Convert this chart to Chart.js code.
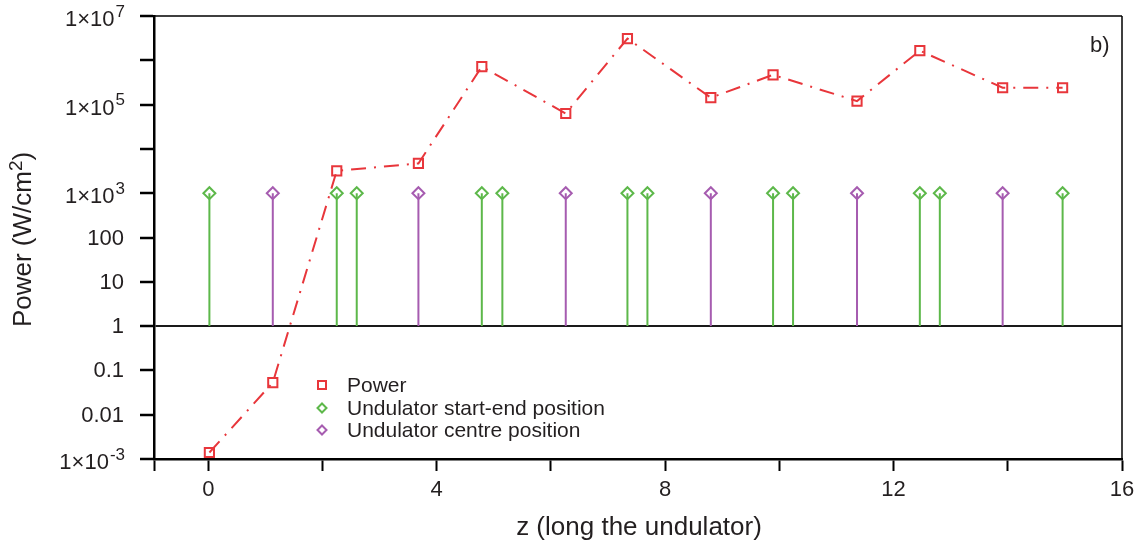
<!DOCTYPE html>
<html>
<head>
<meta charset="utf-8">
<title>Power along the undulator</title>
<script src="https://cdn.jsdelivr.net/npm/chart.js@4.4.1/dist/chart.umd.min.js"></script>
<style>
  html, body { margin: 0; padding: 0; background: #ffffff; }
  #wrap { width: 1144px; height: 544px; position: relative; }
</style>
</head>
<body>
<div id="wrap"><canvas id="chart" width="1144" height="544"></canvas></div>
<script>
// Power density sampled at the undulator start / centre positions
const zPower = [0.02, 1.13, 2.25, 3.68, 4.79, 6.26, 7.34, 8.80, 9.89, 11.36, 12.46, 13.91, 14.96];
const power  = [1.4e-3, 0.053, 3.2e3, 4.7e3, 7.2e5, 6.3e4, 3.1e6, 1.43e5, 4.7e5, 1.2e5, 1.65e6, 2.4e5, 2.4e5];

// Undulator positions (drawn as stems from 1 up to 1e3)
const zStartEnd = [0.02, 2.25, 2.60, 4.79, 5.15, 7.34, 7.69, 9.89, 10.24, 12.46, 12.81, 14.96];
const zCentre   = [1.13, 3.68, 6.26, 8.80, 11.36, 13.91];
const stemFrom = 1;
const stemTo = 1000;

// Axis ticks
const xTickValues = [0, 2, 4, 6, 8, 10, 12, 14, 16];
const xTickLabels = ['0', '', '4', '', '8', '', '12', '', '16'];
const yTickValues = [1e-3, 1e-2, 1e-1, 1, 10, 100, 1e3, 1e4, 1e5, 1e6, 1e7];
const yTickBase   = ['1×10', '0.01', '0.1', '1', '10', '100', '1×10', '', '1×10', '', '1×10'];
const yTickExp    = ['-3', '', '', '', '', '', '3', '', '5', '', '7'];

const seriesNames = ['Power', 'Undulator start-end position', 'Undulator centre position'];

const RED = '#e8363b';
const GREEN = '#5db84a';
const PURPLE = '#a65cb0';
const INK = '#231f20';
const FONT = '"Liberation Sans", Arial, Helvetica, sans-serif';

function stems(zs) {
  const out = [];
  zs.forEach(z => {
    out.push({ x: z, y: stemFrom }, { x: z, y: stemTo }, { x: z, y: null });
  });
  return out;
}

const stemPointRadius = ctx => (ctx.raw && ctx.raw.y === stemTo) ? 6 : 0;

const decorations = {
  id: 'decorations',
  beforeDatasetsDraw(chart) {
    const { ctx, chartArea: a } = chart;
    ctx.save();
    ctx.strokeStyle = '#000';
    ctx.lineWidth = 1.5;
    ctx.beginPath();
    ctx.moveTo(a.left, a.top);
    ctx.lineTo(a.right, a.top);
    ctx.moveTo(a.right, a.top);
    ctx.lineTo(a.right, a.bottom);
    ctx.stroke();
    ctx.restore();
  },
  afterDraw(chart) {
    const { ctx, chartArea: a } = chart;
    const y = chart.scales.y;
    ctx.save();
    ctx.fillStyle = INK;

    // y tick labels with raised exponents
    const right = a.left - 30;
    yTickValues.forEach((v, i) => {
      const base = yTickBase[i];
      if (!base) return;
      const py = y.getPixelForValue(v);
      const exp = yTickExp[i];
      ctx.textBaseline = 'middle';
      if (exp) {
        ctx.font = '17px ' + FONT;
        ctx.textAlign = 'right';
        const ew = ctx.measureText(exp).width;
        ctx.fillText(exp, right + 1, py - 4);
        ctx.font = '22px ' + FONT;
        ctx.fillText(base, right + 1 - ew - 1, py + 4);
      } else {
        ctx.font = '22px ' + FONT;
        ctx.textAlign = 'right';
        ctx.fillText(base, right, py + 1);
      }
    });

    // x axis title
    ctx.font = '26px ' + FONT;
    ctx.textAlign = 'center';
    ctx.textBaseline = 'alphabetic';
    ctx.fillText('z (long the undulator)', (a.left + a.right) / 2 + 1, 535);

    // y axis title, rotated, with superscript 2
    ctx.save();
    ctx.translate(31, (a.top + a.bottom) / 2 + 2);
    ctx.rotate(-Math.PI / 2);
    ctx.textAlign = 'left';
    ctx.textBaseline = 'alphabetic';
    const p1 = 'Power (W/cm', p2 = '2', p3 = ')';
    ctx.font = '26px ' + FONT;
    const w1 = ctx.measureText(p1).width, w3 = ctx.measureText(p3).width;
    ctx.font = '19px ' + FONT;
    const w2 = ctx.measureText(p2).width;
    let x0 = -(w1 + w2 + w3) / 2;
    ctx.font = '26px ' + FONT;
    ctx.fillText(p1, x0, 0);
    ctx.font = '19px ' + FONT;
    ctx.fillText(p2, x0 + w1, -9);
    ctx.font = '26px ' + FONT;
    ctx.fillText(p3, x0 + w1 + w2, 0);
    ctx.restore();

    // panel tag
    ctx.font = '22px ' + FONT;
    ctx.textAlign = 'left';
    ctx.textBaseline = 'alphabetic';
    ctx.fillText('b)', 1090, 52);

    // legend
    const lx = 322, tx = 347;
    const rows = [385, 408, 430];
    const colors = [RED, GREEN, PURPLE];
    rows.forEach((ry, i) => {
      ctx.strokeStyle = colors[i];
      ctx.lineWidth = 2;
      ctx.beginPath();
      if (i === 0) {
        ctx.rect(lx - 4, ry - 4, 8, 8);
      } else {
        ctx.moveTo(lx, ry - 4.5);
        ctx.lineTo(lx + 4.5, ry);
        ctx.lineTo(lx, ry + 4.5);
        ctx.lineTo(lx - 4.5, ry);
        ctx.closePath();
      }
      ctx.stroke();
      ctx.fillStyle = INK;
      ctx.font = '21px ' + FONT;
      ctx.textAlign = 'left';
      ctx.textBaseline = 'middle';
      ctx.fillText(seriesNames[i], tx, ry + 1);
    });
    ctx.restore();
  }
};

new Chart(document.getElementById('chart'), {
  type: 'line',
  data: {
    datasets: [
      {
        label: seriesNames[0],
        data: zPower.map((z, i) => ({ x: z, y: power[i] })),
        borderColor: RED,
        borderWidth: 2,
        borderDash: [15, 8, 2, 8],
        pointStyle: 'rect',
        pointRadius: 6.5,
        pointBorderWidth: 2,
        pointBorderColor: RED,
        pointBackgroundColor: 'rgba(0,0,0,0)',
        tension: 0,
        fill: false
      },
      {
        label: seriesNames[1],
        data: stems(zStartEnd),
        borderColor: GREEN,
        borderWidth: 2,
        pointStyle: 'rectRot',
        pointRadius: stemPointRadius,
        pointBorderWidth: 2,
        pointBorderColor: GREEN,
        pointBackgroundColor: 'rgba(0,0,0,0)',
        spanGaps: false,
        tension: 0,
        fill: false
      },
      {
        label: seriesNames[2],
        data: stems(zCentre),
        borderColor: PURPLE,
        borderWidth: 2,
        pointStyle: 'rectRot',
        pointRadius: stemPointRadius,
        pointBorderWidth: 2,
        pointBorderColor: PURPLE,
        pointBackgroundColor: 'rgba(0,0,0,0)',
        spanGaps: false,
        tension: 0,
        fill: false
      }
    ]
  },
  options: {
    responsive: false,
    animation: false,
    events: [],
    layout: { padding: { top: 16, right: 22, left: 0, bottom: 0 } },
    plugins: {
      legend: { display: false },
      tooltip: { enabled: false }
    },
    scales: {
      x: {
        type: 'linear',
        min: -0.95,
        max: 16,
        afterBuildTicks: s => { s.ticks = [-0.95].concat(xTickValues).map(v => ({ value: v })); },
        afterFit: s => { s.height = 85; },
        ticks: {
          autoSkip: false,
          maxRotation: 0,
          padding: 6,
          color: INK,
          font: { family: FONT, size: 22 },
          callback: v => {
            const i = xTickValues.indexOf(v);
            return i >= 0 ? xTickLabels[i] : '';
          }
        },
        grid: {
          drawOnChartArea: false,
          drawTicks: true,
          tickLength: 12,
          tickWidth: 2,
          tickColor: '#000'
        },
        border: { color: '#000', width: 2.5 }
      },
      y: {
        type: 'logarithmic',
        min: 1e-3,
        max: 1e7,
        afterBuildTicks: s => { s.ticks = yTickValues.map(v => ({ value: v })); },
        afterFit: s => { s.width = 154; },
        ticks: { display: false },
        grid: {
          drawOnChartArea: true,
          drawTicks: true,
          tickLength: 14,
          tickWidth: 2.5,
          tickColor: '#000',
          color: c => (c.tick && c.tick.value === 1) ? '#1a1a1a' : 'rgba(0,0,0,0)',
          lineWidth: c => (c.tick && c.tick.value === 1) ? 2 : 0
        },
        border: { color: '#000', width: 2.5 }
      }
    }
  },
  plugins: [decorations]
});
</script>
</body>
</html>
